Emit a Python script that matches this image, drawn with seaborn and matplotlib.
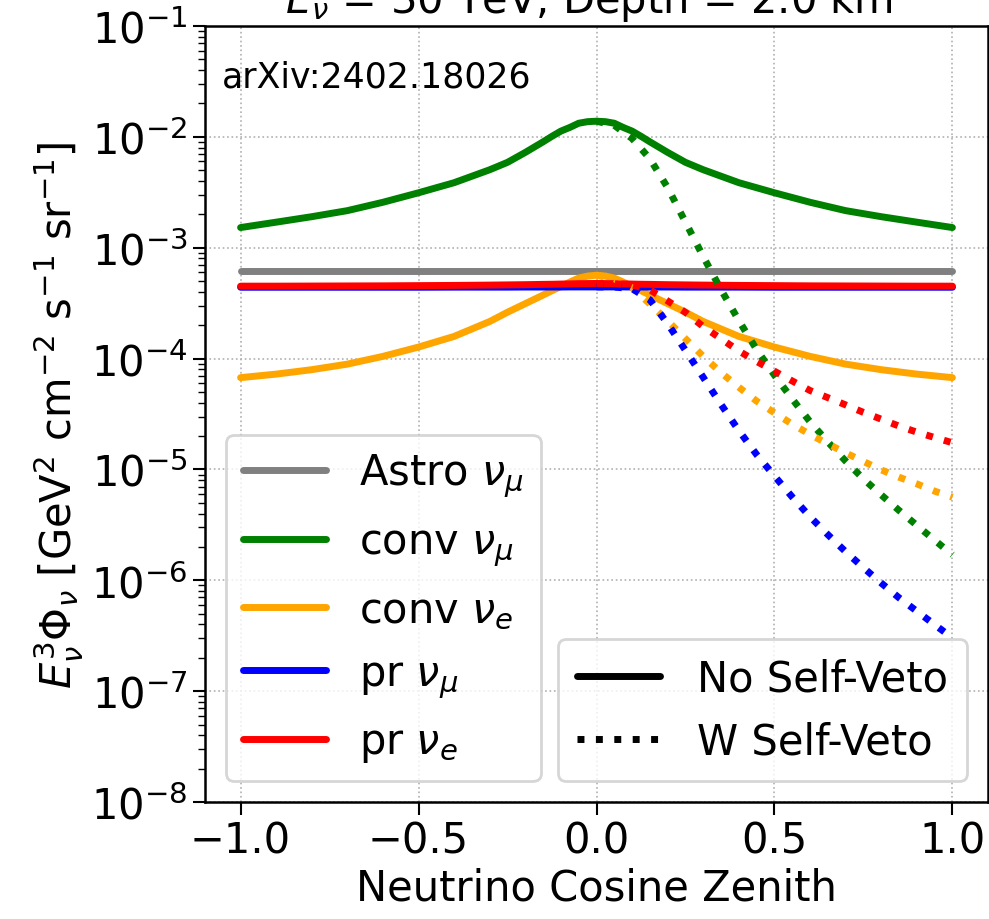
import numpy as np
import pandas as pd
import seaborn as sns
import matplotlib
matplotlib.use("Agg")
import matplotlib.pyplot as plt
from matplotlib.lines import Line2D

# Cosine-zenith grid for the fluxes without the atmospheric self-veto
cos_zen = [-1.0, -0.9, -0.8, -0.7, -0.6, -0.5, -0.4, -0.3, -0.25, -0.2, -0.15, -0.125, -0.1,
           -0.075, -0.05, -0.025, 0.0, 0.025, 0.05, 0.075, 0.1, 0.125, 0.15, 0.2, 0.25, 0.3,
           0.4, 0.5, 0.6, 0.7, 0.8, 0.9, 1.0]

# E^3 * flux  [GeV^2 cm^-2 s^-1 sr^-1]
astro_numu = [6.22e-4] * len(cos_zen)
conv_numu = [1.52e-3, 1.70e-3, 1.905e-3, 2.16e-3, 2.57e-3, 3.13e-3, 3.86e-3, 5.05e-3, 5.89e-3,
             7.24e-3, 9.02e-3, 1.012e-2, 1.127e-2, 1.216e-2, 1.327e-2, 1.371e-2, 1.384e-2,
             1.371e-2, 1.327e-2, 1.216e-2, 1.127e-2, 1.012e-2, 9.02e-3, 7.24e-3, 5.89e-3,
             5.05e-3, 3.86e-3, 3.13e-3, 2.57e-3, 2.16e-3, 1.905e-3, 1.70e-3, 1.52e-3]
conv_nue = [6.73e-5, 7.24e-5, 7.94e-5, 8.91e-5, 1.047e-4, 1.27e-4, 1.585e-4, 2.16e-4, 2.62e-4,
            3.13e-4, 3.74e-4, 4.10e-4, 4.47e-4, 4.90e-4, 5.32e-4, 5.55e-4, 5.65e-4, 5.55e-4,
            5.32e-4, 4.90e-4, 4.47e-4, 4.10e-4, 3.74e-4, 3.13e-4, 2.62e-4, 2.16e-4, 1.585e-4,
            1.27e-4, 1.047e-4, 8.91e-5, 7.94e-5, 7.24e-5, 6.73e-5]
pr_numu = [4.40e-4, 4.40e-4, 4.40e-4, 4.40e-4, 4.40e-4, 4.40e-4, 4.41e-4, 4.41e-4, 4.41e-4,
           4.42e-4, 4.42e-4, 4.42e-4, 4.42e-4, 4.43e-4, 4.43e-4, 4.43e-4, 4.43e-4, 4.43e-4,
           4.43e-4, 4.43e-4, 4.42e-4, 4.42e-4, 4.42e-4, 4.42e-4, 4.41e-4, 4.41e-4, 4.41e-4,
           4.40e-4, 4.40e-4, 4.40e-4, 4.40e-4, 4.40e-4, 4.40e-4]
pr_nue = [4.50e-4, 4.50e-4, 4.51e-4, 4.52e-4, 4.53e-4, 4.55e-4, 4.57e-4, 4.60e-4, 4.62e-4,
          4.64e-4, 4.67e-4, 4.68e-4, 4.70e-4, 4.72e-4, 4.74e-4, 4.75e-4, 4.76e-4, 4.75e-4,
          4.74e-4, 4.72e-4, 4.70e-4, 4.68e-4, 4.67e-4, 4.64e-4, 4.62e-4, 4.60e-4, 4.57e-4,
          4.55e-4, 4.53e-4, 4.52e-4, 4.51e-4, 4.50e-4, 4.50e-4]

# Down-going region with the self-veto applied
cos_zen_veto = [0.0, 0.05, 0.1, 0.15, 0.2, 0.25, 0.3, 0.35, 0.4, 0.45, 0.5, 0.55, 0.6, 0.65,
                0.7, 0.75, 0.8, 0.85, 0.9, 0.95, 1.0]
conv_numu_veto = [1.384e-2, 1.27e-2, 9.66e-3, 6.35e-3, 3.48e-3, 1.70e-3, 8.30e-4, 4.18e-4,
                  2.20e-4, 1.205e-4, 7.08e-5, 4.32e-5, 2.69e-5, 1.77e-5, 1.19e-5, 8.22e-6,
                  5.89e-6, 4.27e-6, 3.13e-6, 2.30e-6, 1.70e-6]
conv_nue_veto = [5.65e-4, 5.25e-4, 4.37e-4, 3.11e-4, 2.19e-4, 1.51e-4, 1.045e-4, 7.46e-5,
                 5.51e-5, 4.13e-5, 3.24e-5, 2.56e-5, 2.07e-5, 1.70e-5, 1.41e-5, 1.18e-5,
                 9.91e-6, 8.51e-6, 7.41e-6, 6.37e-6, 5.62e-6]
pr_numu_veto = [4.43e-4, 4.42e-4, 4.27e-4, 3.39e-4, 2.06e-4, 1.186e-4, 6.76e-5, 3.85e-5,
                2.24e-5, 1.36e-5, 8.73e-6, 5.64e-6, 3.74e-6, 2.58e-6, 1.81e-6, 1.30e-6,
                9.44e-7, 6.95e-7, 5.26e-7, 3.98e-7, 3.02e-7]
pr_nue_veto = [4.76e-4, 4.74e-4, 4.62e-4, 4.17e-4, 3.31e-4, 2.61e-4, 1.94e-4, 1.51e-4,
               1.17e-4, 9.42e-5, 7.69e-5, 6.28e-5, 5.15e-5, 4.44e-5, 3.82e-5, 3.27e-5,
               2.84e-5, 2.46e-5, 2.17e-5, 1.94e-5, 1.74e-5]

components = [
    ("Astro $\\nu_\\mu$", "grey", astro_numu, None),
    ("conv $\\nu_\\mu$", "green", conv_numu, conv_numu_veto),
    ("conv $\\nu_e$", "orange", conv_nue, conv_nue_veto),
    ("pr $\\nu_\\mu$", "blue", pr_numu, pr_numu_veto),
    ("pr $\\nu_e$", "red", pr_nue, pr_nue_veto),
]

sns.set_theme(style="ticks")
plt.rcParams["font.family"] = ["DejaVu Sans"]
plt.rcParams["mathtext.fontset"] = "dejavusans"
for key in ["text.color", "axes.labelcolor", "xtick.color", "ytick.color", "axes.edgecolor"]:
    plt.rcParams[key] = "black"

FS = 30
LW = 5

fig = plt.figure(figsize=(9.89, 9.20), dpi=100)
ax = fig.add_axes([205 / 989, 117 / 920, 783 / 989, 776 / 920])

for label, color, flux, _ in components:
    df = pd.DataFrame({"cz": cos_zen, "flux": flux})
    sns.lineplot(data=df, x="cz", y="flux", color=color, linewidth=LW, ax=ax,
                 legend=False, estimator=None, sort=False)

for label, color, _, flux_veto in components:
    if flux_veto is None:
        continue
    df = pd.DataFrame({"cz": cos_zen_veto, "flux": flux_veto})
    sns.lineplot(data=df, x="cz", y="flux", color=color, linewidth=LW, linestyle=":",
                 ax=ax, legend=False, estimator=None, sort=False)

ax.set_yscale("log")
ax.set_ylim(1e-8, 1e-1)
ax.set_xlim(-1.1, 1.1)
ax.set_xticks([-1.0, -0.5, 0.0, 0.5, 1.0])
ax.grid(True, which="major", linestyle=":", color="#b0b0b0", linewidth=1.2)

ax.set_xlabel("Neutrino Cosine Zenith", fontsize=FS, labelpad=4)
ax.set_ylabel(r"$E^3_{\nu}\Phi_{\nu}$ [GeV$^2$ cm$^{-2}$ s$^{-1}$ sr$^{-1}$]", fontsize=FS,
              labelpad=4)
ax.tick_params(axis="both", which="major", labelsize=FS, length=9, width=1.5, color="black")
ax.tick_params(axis="y", which="minor", length=5, width=1.0, color="black")
for sp in ax.spines.values():
    sp.set_linewidth(1.8)
    sp.set_color("black")

ax.text(0.022, 0.935, "arXiv:2402.18026", transform=ax.transAxes, fontsize=25,
        va="center", ha="left")

fig.text(0.596, 1 - 13 / 920, r"$E_\nu$ = 30 TeV, Depth = 2.0 km", fontsize=FS,
         ha="center", va="baseline")

flux_handles = [Line2D([], [], color=c, linewidth=LW) for _, c, _, _ in components]
leg1 = ax.legend(flux_handles, [lab for lab, _, _, _ in components], loc="lower left",
                 fontsize=FS, frameon=True, fancybox=True, edgecolor="#cccccc")
leg1.get_frame().set_linewidth(2)
ax.add_artist(leg1)

style_handles = [Line2D([], [], color="black", linewidth=LW, linestyle="-"),
                 Line2D([], [], color="black", linewidth=LW, linestyle=":")]
leg2 = ax.legend(style_handles, ["No Self-Veto", "W Self-Veto"], loc="lower right",
                 fontsize=FS, frameon=True, fancybox=True, edgecolor="#cccccc",
                 borderpad=0.45, handletextpad=0.9)
leg2.get_frame().set_linewidth(2)

fig.savefig("out.png", dpi=100)
